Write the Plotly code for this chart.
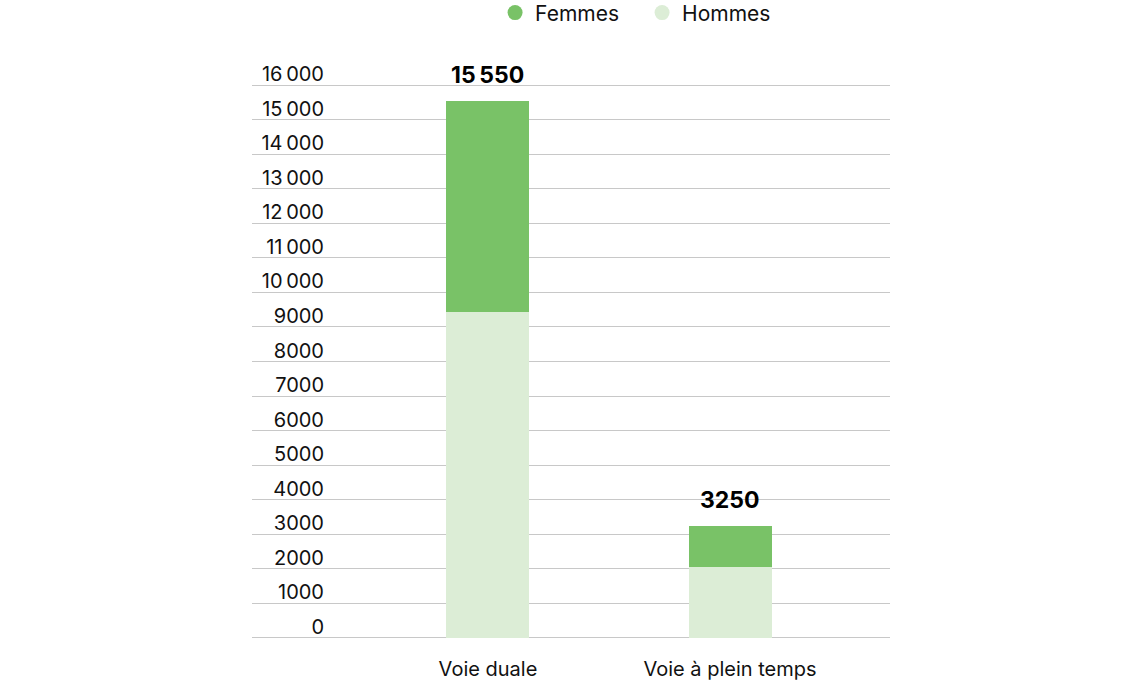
import plotly.graph_objects as go

categories = ["Voie duale", "Voie à plein temps"]
hommes = [9430, 2060]
femmes = [6120, 1190]
totals = [15550, 3250]
total_labels = ["15\u202f550", "3250"]
tick_vals = list(range(0, 16001, 1000))
tick_text = [("{:,}".format(v).replace(",", "\u202f") if v >= 10000 else str(v)) for v in tick_vals]

C_F = "#79c267"
C_H = "#dcedd6"
FONT = "Inter"

fig = go.Figure()
fig.add_trace(go.Bar(x=categories, y=hommes, name="Hommes", marker=dict(color=C_H, line=dict(width=0)),
                     width=0.343, showlegend=False))
fig.add_trace(go.Bar(x=categories, y=femmes, name="Femmes", marker=dict(color=C_F, line=dict(width=0)),
                     width=0.343, showlegend=False))
# legend entries with round markers
fig.add_trace(go.Scatter(x=[None], y=[None], mode="markers", name="Femmes",
                         marker=dict(color=C_F, size=15, symbol="circle")))
fig.add_trace(go.Scatter(x=[None], y=[None], mode="markers", name="Hommes",
                         marker=dict(color=C_H, size=15, symbol="circle")))

for c, t, lab in zip(categories, totals, total_labels):
    fig.add_annotation(x=c, y=t, text="<b>" + lab + "</b>", showarrow=False,
                       yanchor="bottom", yshift=10, font=dict(size=23, color="#000", family=FONT))

fig.update_layout(
    barmode="stack",
    width=1140, height=691,
    margin=dict(l=252, r=250, t=84, b=52, autoexpand=False),
    plot_bgcolor="white", paper_bgcolor="white",
    font=dict(family=FONT, size=20, color="#111"),
    legend=dict(orientation="h", x=0.381, xanchor="left", y=1.128, yref="paper", yanchor="middle",
                font=dict(size=21, family=FONT), itemwidth=30, traceorder="normal",
                entrywidth=102, entrywidthmode="pixels"),
    xaxis=dict(type="category", range=[-0.975, 1.661], showgrid=False, showline=False, ticks="",
               automargin=False,
               tickfont=dict(size=20, family=FONT, color="#111"), ticklabelstandoff=16),
    yaxis=dict(range=[-30, 16030], tickvals=tick_vals, ticktext=tick_text, showgrid=True,
               gridcolor="#c8c8c8", gridwidth=1, zeroline=False, showline=False, ticks="",
               automargin=False,
               ticklabelposition="outside top", ticklabelstandoff=-73, ticklabelshift=3,
               tickfont=dict(size=20, family=FONT, color="#111")),
    bargap=0,
)

fig.write_html("out.html", config={"displayModeBar": False},
               post_script="document.body.style.margin='0';")
